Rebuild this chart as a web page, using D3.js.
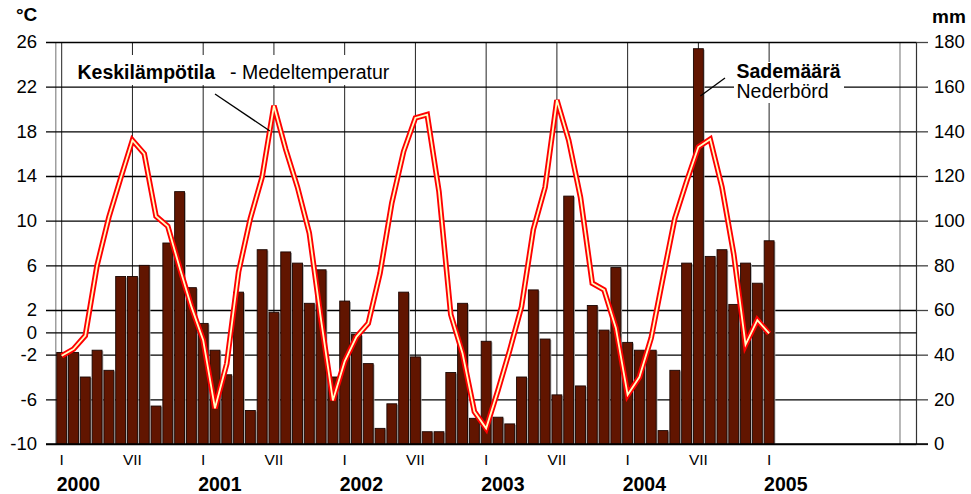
<!DOCTYPE html>
<html><head><meta charset="utf-8">
<script src="https://cdn.jsdelivr.net/npm/d3@7"></script>
<style>
body{margin:0;background:#fff}
svg{display:block}
text{font-family:"Liberation Sans",Arial,sans-serif;fill:#000}
</style>
</head><body>
<svg id="c" width="971" height="494"></svg>
<script>
// ---- data ----
const years = ["2000","2001","2002","2003","2004","2005"];
const monthLabels = ["I","VII"];
const tempTicks = [-10,-6,-2,0,2,6,10,14,18,22,26];
const mmTicks = [0,20,40,60,80,100,120,140,160,180];
// monthly mean temperature (°C), Jan 2000 .. Jan 2005
const temperature = [
  -2.1,-1.5,-0.3,6.0,10.3,13.8,17.2,16.0,10.4,9.5,5.8,2.3,
  -0.7,-6.8,-2.8,5.4,10.2,13.9,20.3,16.4,13.0,8.9,1.1,-6.1,
  -2.6,-0.4,0.8,5.3,11.6,16.2,19.2,19.5,12.6,1.6,-1.9,-7.1,
  -8.6,-5.2,-1.6,2.3,9.2,13.0,20.8,17.2,12.1,4.4,3.8,0.4,
  -5.6,-4.0,-0.5,4.9,10.2,13.5,16.6,17.3,13.0,7.0,-1.1,1.1,
  -0.1
];
// monthly precipitation (mm), Jan 2000 .. Jan 2005
const precipitation = [
  41,41,30,42,33,75,75,80,17,90,113,70,
  54,42,31,68,15,87,59,86,81,63,78,30,
  64,49,36,7,18,68,39,5.5,5.5,32,63,11.5,
  46,12,9,30,69,47,22,111,26,62,51,79,
  45.5,42,42,6,33,81,177,84,87,62.5,81,72,
  91
];

// ---- scales ----
const svg = d3.select("#c");
const x = d3.scaleLinear().domain([-0.5, 72.5]).range([55.8, 916.5]);
const yT = d3.scaleLinear().domain([-10, 26]).range([444, 42]);
const yP = d3.scaleLinear().domain([0, 180]).range([444, 42]);
const step = x(1) - x(0);
const bw = step * 0.84;
const FONT = '"Liberation Sans",Arial,sans-serif';

// ---- vertical gridlines ----
const gridMonths = d3.range(0, 61, 6);
svg.append("g").selectAll("line").data(gridMonths).join("line")
  .attr("x1", d => x(d)).attr("x2", d => x(d))
  .attr("y1", yT(26)).attr("y2", yT(-10))
  .attr("stroke", "#222").attr("stroke-width", 1);
// frame lines
svg.append("line").attr("x1", x(-0.5)).attr("x2", x(-0.5)).attr("y1", yT(26)).attr("y2", yT(-10))
  .attr("stroke", "#888").attr("stroke-width", 1.2);
svg.append("line").attr("x1", x(71.1)).attr("x2", x(71.1)).attr("y1", yT(26)).attr("y2", yT(-10))
  .attr("stroke", "#888").attr("stroke-width", 1.2);
svg.append("line").attr("x1", x(72.5)).attr("x2", x(72.5)).attr("y1", yT(26)).attr("y2", yT(-10))
  .attr("stroke", "#333").attr("stroke-width", 1.2);

// ---- left axis with horizontal gridlines ----
const left = svg.append("g").attr("transform", "translate(46,0)")
  .call(d3.axisLeft(yT).tickValues(tempTicks).tickFormat(d => String(d))
    .tickSize(-(x(72.5) - 46)).tickPadding(9));
left.select(".domain").remove();
left.selectAll("line").attr("stroke", "#000").attr("stroke-width", 1.3);
left.selectAll("text").attr("font-size", 18.5).attr("font-family", FONT).attr("fill", "#000");

// ---- right axis ----
const right = svg.append("g").attr("transform", `translate(${x(72.5)},0)`)
  .call(d3.axisRight(yP).tickValues(mmTicks).tickSize(11.5).tickPadding(6));
right.select(".domain").remove();
right.selectAll("line").attr("stroke", "#444").attr("stroke-width", 1.3);
right.selectAll("text").attr("font-size", 18.5).attr("font-family", FONT).attr("fill", "#000");

// ---- bars ----
svg.append("g").selectAll("rect.sh").data(precipitation).join("rect")
  .attr("x", (d, i) => x(i) - bw / 2 + 1.3).attr("y", d => yP(d) + 1)
  .attr("width", bw).attr("height", d => yP(0) - yP(d) - 1)
  .attr("fill", "#aaa");
svg.append("g").selectAll("rect.bar").data(precipitation).join("rect")
  .attr("x", (d, i) => x(i) - bw / 2).attr("y", d => yP(d))
  .attr("width", bw).attr("height", d => yP(0) - yP(d))
  .attr("fill", "#611500").attr("stroke", "#1a0500").attr("stroke-width", 0.9);

// bottom axis line
svg.append("line").attr("x1", 46).attr("x2", 928).attr("y1", yT(-10)).attr("y2", yT(-10))
  .attr("stroke", "#000").attr("stroke-width", 1.4);

// ---- annotation boxes ----
svg.append("rect").attr("x", 75).attr("y", 55).attr("width", 322).attr("height", 30).attr("fill", "#fff");
svg.append("rect").attr("x", 734).attr("y", 62).attr("width", 110).attr("height", 41).attr("fill", "#fff");

// ---- temperature line ----
const line = d3.line().x((d, i) => x(i)).y(d => yT(d));
svg.append("path").datum(temperature).attr("d", line)
  .attr("fill", "none").attr("stroke", "#ff0000").attr("stroke-width", 5.5)
  .attr("stroke-linejoin", "miter");
svg.append("path").datum(temperature).attr("d", line)
  .attr("fill", "none").attr("stroke", "#ffffc4").attr("stroke-width", 1.8)
  .attr("stroke-linejoin", "miter");

// ---- x labels ----
svg.append("g").selectAll("text").data(gridMonths).join("text")
  .attr("x", d => x(d)).attr("y", 465).attr("text-anchor", "middle")
  .attr("font-size", 15.5).text(d => monthLabels[(d % 12) / 6]);
svg.append("g").selectAll("text").data(years).join("text")
  .attr("x", (d, i) => x(i * 12) - 5).attr("y", 491).attr("font-size", 19.5)
  .attr("font-weight", "bold").text(d => d);

// ---- unit labels ----
svg.append("text").attr("x", 16).attr("y", 21).attr("font-size", 19).attr("font-weight", "bold").text("°C");
svg.append("text").attr("x", 932).attr("y", 23).attr("font-size", 19).attr("font-weight", "bold").text("mm");

// ---- legend annotations ----
svg.append("text").attr("x", 77.5).attr("y", 78.5).attr("font-size", 19.5).attr("font-weight", "bold").text("Keskilämpötila");
svg.append("text").attr("x", 230).attr("y", 78.5).attr("font-size", 19.5).text("- Medeltemperatur");
svg.append("line").attr("x1", 215).attr("y1", 94).attr("x2", x(18) - 4).attr("y2", 131)
  .attr("stroke", "#000").attr("stroke-width", 1.3);

svg.append("text").attr("x", 736.5).attr("y", 77.5).attr("font-size", 19.5).attr("font-weight", "bold").text("Sademäärä");
svg.append("text").attr("x", 736.5).attr("y", 97.5).attr("font-size", 19.5).text("Nederbörd");
svg.append("line").attr("x1", 725).attr("y1", 78).attr("x2", x(54)+2).attr("y2", 96)
  .attr("stroke", "#000").attr("stroke-width", 1.3);
</script>
</body></html>
